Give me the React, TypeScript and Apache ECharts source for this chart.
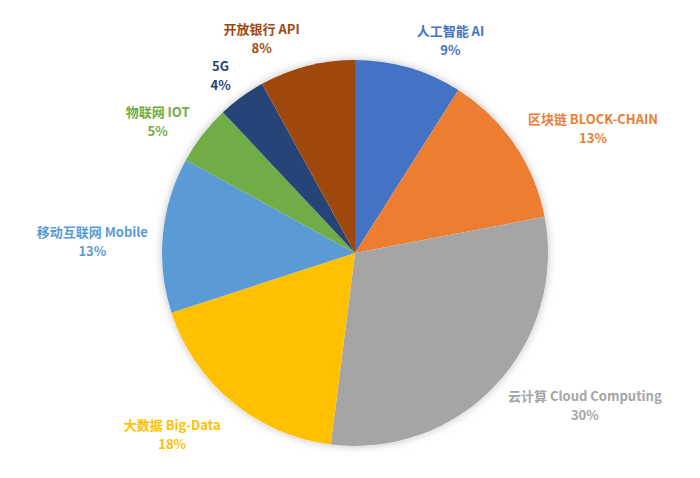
import { useEffect, useRef } from 'react'
import * as echarts from 'echarts'

// 数据
const categories = [
  '人工智能 AI',
  '区块链 BLOCK-CHAIN',
  '云计算 Cloud Computing',
  '大数据 Big-Data',
  '移动互联网 Mobile',
  '物联网 IOT',
  '5G',
  '开放银行 API'
]
const shares = [9, 13, 30, 18, 13, 5, 4, 8]
const sliceColors = ['#4472C4', '#ED7D31', '#A5A5A5', '#FFC000', '#5B9BD5', '#70AD47', '#264478', '#9E480E']

const CX = 355
const CY = 253
const R = 193
const LABEL_GAP = 10

export default function App() {
  const chartRef = useRef<HTMLDivElement>(null)

  useEffect(() => {
    document.body.style.margin = '0'
    const host = chartRef.current
    if (!host) return
    const chart = echarts.init(host, null, { renderer: 'svg' })

    const total = shares.reduce((a, b) => a + b, 0)
    // 每个扇区中线角度（从正上方顺时针）
    const midAngles: number[] = []
    let acc = 0
    shares.forEach(v => {
      midAngles.push(((acc + v / 2) / total) * Math.PI * 2)
      acc += v
    })

    const clamp = (v: number) => Math.max(-1, Math.min(1, v))

    const option: echarts.EChartsOption = {
      animation: false,
      backgroundColor: '#ffffff',
      series: [
        {
          type: 'pie',
          silent: true,
          center: [CX, CY],
          radius: R,
          z: 1,
          label: { show: false },
          labelLine: { show: false },
          itemStyle: {
            color: '#ffffff',
            shadowBlur: 8,
            shadowColor: 'rgba(0,0,0,0.25)'
          },
          data: [{ value: 1, name: '' }]
        },
        {
          type: 'pie',
          center: [CX, CY],
          radius: R,
          z: 2,
          startAngle: 90,
          clockwise: true,
          avoidLabelOverlap: false,
          data: categories.map((name, i) => ({
            name,
            value: shares[i],
            itemStyle: { color: sliceColors[i] },
            label: { color: sliceColors[i] }
          })),
          label: {
            show: true,
            position: 'outside',
            formatter: (p: any) => `${p.name}\n${p.value}%`,
            fontFamily: '"Noto Sans CJK SC", "Open Sans", sans-serif',
            fontSize: 13,
            fontWeight: 'bold',
            lineHeight: 19,
            align: 'center'
          },
          labelLine: { show: false },
          // 类似 Excel "最佳匹配" 的标签摆放
          labelLayout: (params: any) => {
            const a = midAngles[params.dataIndex]
            const s = Math.sin(a)
            const c = Math.cos(a)
            const px = CX + (R + LABEL_GAP) * s
            const py = CY - (R + LABEL_GAP) * c
            const w = params.labelRect.width
            const h = params.labelRect.height
            const leftBias = s < 0 ? 10 * (1 - Math.max(0, c)) : 0
            return {
              x: px + clamp(s * 4) * (w / 2 + 5),
              y: py - c * (h / 2) + leftBias,
              align: 'center',
              verticalAlign: 'middle'
            }
          }
        }
      ]
    }

    chart.setOption(option)
    return () => chart.dispose()
  }, [])

  return <div ref={chartRef} style={{ width: 700, height: 478 }} />
}
